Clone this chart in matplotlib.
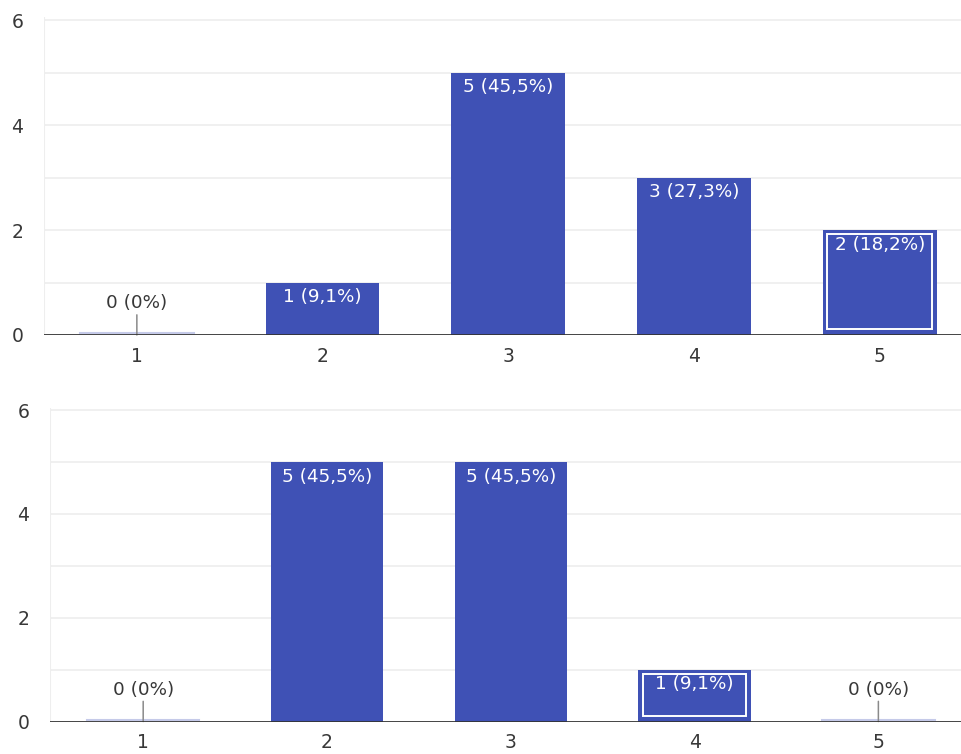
import matplotlib
matplotlib.use("Agg")
import matplotlib.pyplot as plt
from matplotlib.patches import Rectangle
from matplotlib.transforms import offset_copy

# === DATA ===
categories = [1, 2, 3, 4, 5]
counts_q1 = [0, 1, 5, 3, 2]
counts_q2 = [0, 5, 5, 1, 0]
selected_q1 = 5   # category highlighted with inner outline
selected_q2 = 4
y_ticks = [0, 2, 4, 6]

# === STYLE ===
BAR_COLOR = "#3f51b5"
ZERO_COLOR = "#c5cae9"
GRID_COLOR = "#eeeeee"
TEXT_COLOR = "#383838"
plt.rcParams["font.family"] = ["DejaVu Sans"]


def pct_label(count, total):
    if count == 0:
        return "0 (0%)"
    pct = f"{100 * count / total:.1f}".replace(".", ",")
    return f"{count} ({pct}%)"


def draw_panel(ax, counts, selected, xlim):
    total = sum(counts)
    width = 0.612
    ax.set_xlim(*xlim)
    ax.set_ylim(0, 6.05)

    # grid and axes lines
    for y in range(1, 7):
        ax.axhline(y, color=GRID_COLOR, lw=1.2, zorder=0)
    ax.axvline(xlim[0], color=GRID_COLOR, lw=1.5, zorder=0)
    ax.axhline(0, color="#333333", lw=2.0, zorder=4)

    bars = ax.bar(categories, counts, width=width, color=BAR_COLOR, zorder=2)

    up = offset_copy(ax.transData, fig=ax.figure, x=0, y=2, units="dots")
    for cat, c, bar in zip(categories, counts, bars):
        label = pct_label(c, total)
        if c == 0:
            ax.plot([cat - width / 2, cat + width / 2], [0, 0], color=ZERO_COLOR,
                    lw=1.5, transform=up, zorder=3)
            ax.annotate(label, xy=(cat, 0), xytext=(0, 23), textcoords="offset points",
                        ha="center", va="center", fontsize=13.2, color=TEXT_COLOR,
                        arrowprops=dict(arrowstyle="-", color="#8a8a8a", lw=1.1,
                                        shrinkA=0, shrinkB=0))
        else:
            ax.annotate(label, xy=(cat, c), xytext=(0, -4), textcoords="offset points",
                        ha="center", va="top", fontsize=13.2, color="white", zorder=5)
        if cat == selected:
            dx, dy_top, dy_bot = 0.024, 0.085, 0.11
            ax.add_patch(Rectangle((cat - width / 2 + dx, dy_bot),
                                   width - 2 * dx, c - dy_top - dy_bot,
                                   fill=False, edgecolor="white", lw=1.4, zorder=3))

    ax.set_xticks(categories)
    ax.set_yticks(y_ticks)
    ax.tick_params(axis="x", length=0, pad=8.5, labelsize=13.5, labelcolor=TEXT_COLOR)
    ax.tick_params(axis="y", length=0, pad=15, labelsize=13.5, labelcolor=TEXT_COLOR)
    for s in ax.spines.values():
        s.set_visible(False)


fig = plt.figure(figsize=(9.62, 7.54), dpi=100)
ax1 = fig.add_axes([44 / 962, 1 - 335 / 754, 918 / 962, 317.6 / 754])
ax2 = fig.add_axes([50 / 962, 1 - 721.5 / 754, 912 / 962, 314 / 754])

draw_panel(ax1, counts_q1, selected_q1, (0.5, 5.443))
draw_panel(ax2, counts_q2, selected_q2, (0.493, 5.455))

fig.savefig("out.png", dpi=100)
